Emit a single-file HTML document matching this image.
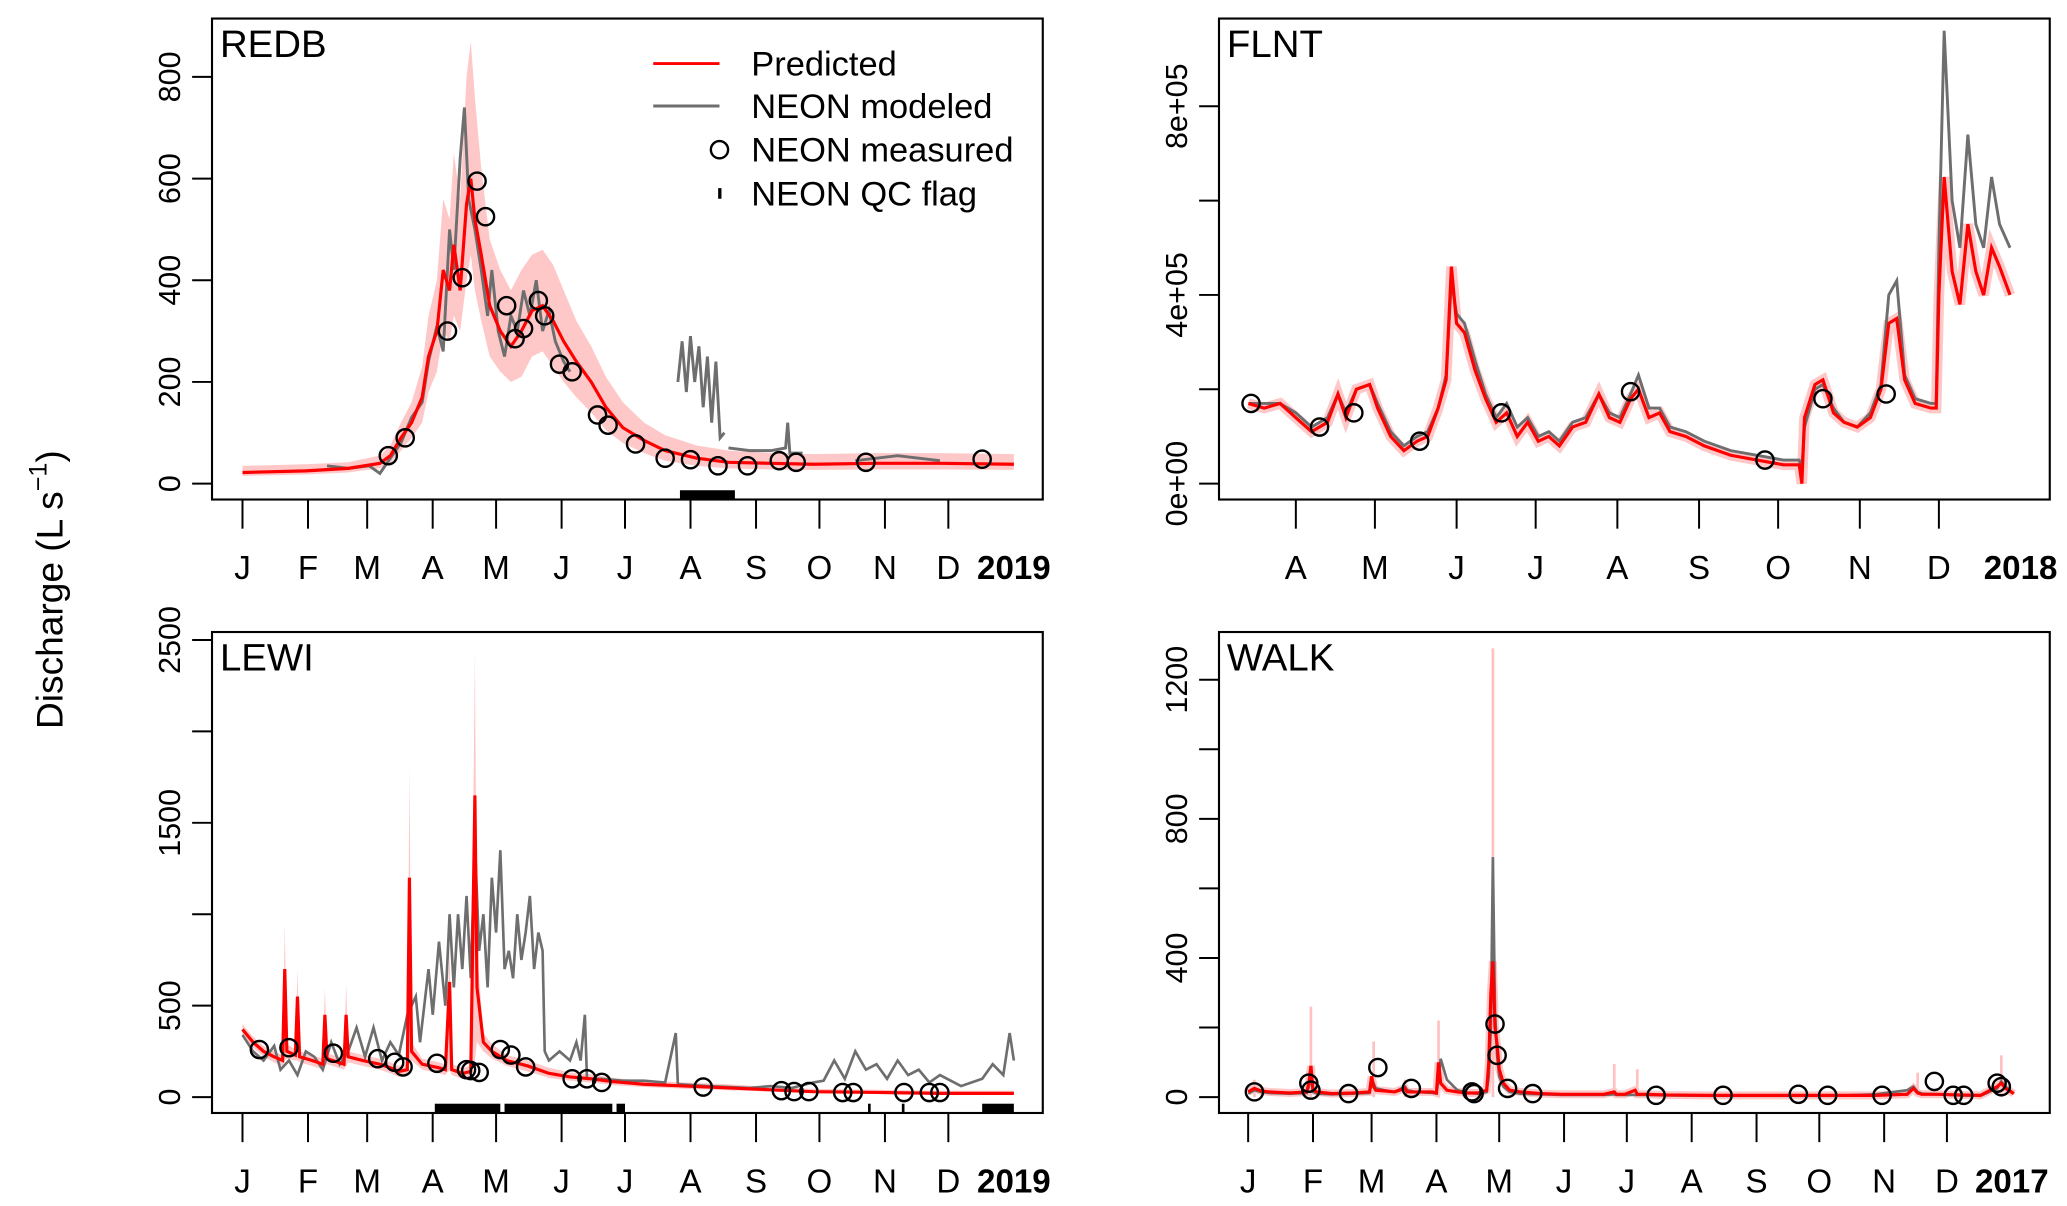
<!DOCTYPE html>
<html><head><meta charset="utf-8"><style>
html,body{margin:0;padding:0;background:#fff;}
svg{display:block;font-family:"Liberation Sans",sans-serif;}
</style></head><body>
<svg id="fig" width="2067" height="1206" viewBox="0 0 1560 910.2" xmlns="http://www.w3.org/2000/svg">
<text transform="translate(47,445) rotate(-90)" text-anchor="middle" font-size="28">Discharge (L s<tspan dy="-12" font-size="19">−1</tspan><tspan dy="12">)</tspan></text>
</svg>
<script>
// ---------- DATA ----------
const monthLabels = ["J","F","M","A","M","J","J","A","S","O","N","D"];
const monthDays = [0,31,59,90,120,151,181,212,243,273,304,334,365];

// REDB
const redbPredDays = [0,30,50,65,70,75,80,85,88,92,95,98,100,103,106,108,110,113,117,122,127,132,137,142,147,152,158,165,172,180,190,200,215,230,250,270,300,330,365];
const redbPred = [22,25,30,40,55,90,120,170,250,300,420,380,470,380,550,600,520,450,350,300,270,300,340,350,320,280,240,200,150,110,85,65,50,42,40,38,40,40,38];
const redbBandLo = [15,18,22,30,40,65,90,120,180,220,300,280,330,300,400,450,380,320,250,220,200,210,250,260,230,200,170,140,105,80,60,45,35,30,28,27,28,28,27];
const redbBandHi = [35,38,42,55,75,120,160,230,330,400,560,520,650,560,800,870,760,620,480,420,380,420,450,460,430,380,320,270,210,160,120,95,75,65,60,58,60,60,58];
const redbModDays = [40,50,60,65,70,75,80,85,88,92,95,98,100,103,105,107,110,113,116,118,121,124,127,130,133,136,139,142,145,148,152,155,null,206,208,210,212,214,216,218,220,222,224,226,228,null,230,240,250,257,258,259,265,null,290,300,310,320,330];
const redbMod = [35,30,35,20,50,80,130,160,240,310,260,500,420,640,740,560,500,420,330,420,300,250,330,300,380,330,400,300,340,280,240,220,null,200,280,180,290,200,270,150,250,120,240,90,100,null,70,65,65,70,120,60,60,null,45,50,55,50,45];
const redbMeasDays = [69,77,97,104,111,115,125,129,133,140,143,150,156,168,173,186,200,212,225,239,254,262,295,350];
const redbMeas = [55,90,300,405,595,525,350,285,305,360,330,235,220,135,115,78,50,47,35,35,45,42,42,48];
const redbFlagStart = [207];
const redbFlagEnd = [233];

// FLNT (values in 1e5)
const flntDays = [72,78,84,90,96,102,106,109,113,118,121,126,131,136,140,144,147,149,151,154,158,162,166,170,174,178,182,186,190,195,200,205,209,213,217,220,224,228,232,238,245,255,265,275,281,282,283,287,290,294,298,303,308,312,315,318,321,325,331,333,334,336,339,342,345,348,351,354,357,361];
const flntPred = [1.7,1.6,1.7,1.4,1.1,1.3,1.9,1.4,2.0,2.1,1.6,1.0,0.7,0.9,1.0,1.6,2.2,4.6,3.4,3.2,2.4,1.8,1.3,1.5,1.0,1.3,0.9,1.0,0.8,1.2,1.3,1.9,1.4,1.3,1.8,2.0,1.4,1.5,1.1,1.0,0.8,0.6,0.5,0.4,0.4,0.0,1.4,2.1,2.2,1.5,1.3,1.2,1.4,2.0,3.4,3.5,2.2,1.7,1.6,1.6,4.0,6.5,4.5,3.8,5.5,4.5,4.0,5.0,4.6,4.0];
const flntMod = [1.7,1.7,1.7,1.5,1.2,1.4,1.9,1.5,2.0,2.1,1.7,1.1,0.8,1.0,1.1,1.6,2.3,4.3,3.6,3.4,2.6,1.9,1.4,1.7,1.2,1.4,1.0,1.1,0.9,1.3,1.4,1.9,1.5,1.4,1.9,2.3,1.6,1.6,1.2,1.1,0.9,0.7,0.6,0.5,0.5,0.3,1.2,2.0,2.1,1.6,1.3,1.2,1.5,2.1,4.0,4.3,2.3,1.8,1.7,1.7,5.0,9.6,6.0,5.0,7.4,5.5,5.0,6.5,5.5,5.0];
const flntMeasDays = [73,99,112,137,168,217,268,290,314];
const flntMeas = [1.7,1.2,1.5,0.9,1.5,1.95,0.5,1.8,1.9];

// LEWI
const lewiPredDays = [0,5,10,15,19,20,21,25,26,27,33,38,39,40,48,49,50,57,65,70,74,78,79,80,85,93,96,98,99,104,108,110,111,114,118,125,135,145,155,165,175,190,210,230,250,270,300,330,365];
const lewiPred = [370,300,250,220,200,700,250,230,550,220,200,180,450,210,180,450,220,200,180,160,140,150,1200,250,180,160,150,630,150,130,140,1650,600,300,250,200,170,130,110,100,85,70,60,50,40,30,25,20,20];
const lewiBandLo = [330,270,220,190,170,200,210,200,200,190,170,150,170,180,150,170,190,170,150,130,110,120,200,200,150,130,120,150,120,100,110,200,300,250,210,170,140,105,90,80,65,55,45,38,30,22,18,14,14];
const lewiBandHi = [400,330,280,250,230,950,290,260,700,250,230,210,600,240,210,620,250,230,210,190,170,180,1800,300,210,190,180,800,180,160,170,2430,800,350,290,230,200,160,135,125,105,90,80,70,55,45,40,35,35];
const lewiModDays = [0,5,10,15,18,22,26,30,34,38,42,46,50,54,58,62,66,70,74,78,82,84,88,90,93,96,98,100,102,104,106,108,110,112,114,116,118,120,122,124,126,128,130,132,134,136,138,140,142,143,145,150,155,158,160,162,163,170,180,190,200,205,206,220,240,250,260,270,275,280,285,290,295,300,305,310,315,320,325,330,340,350,355,360,363,365];
const lewiMod = [340,250,200,280,150,200,120,250,220,150,300,180,250,380,220,380,200,300,230,450,550,300,700,450,850,500,1000,600,1000,700,1100,650,1400,800,1000,600,1200,900,1350,700,800,650,1000,750,900,1100,700,900,800,250,200,250,200,300,200,450,100,100,90,90,80,350,70,60,50,60,50,80,90,200,100,250,150,180,100,200,120,150,80,120,60,100,180,120,350,200];
const lewiMeasDays = [8,22,43,64,72,76,92,106,108,112,122,127,134,156,163,170,218,255,261,268,284,289,313,325,330];
const lewiMeas = [260,270,240,210,190,165,185,150,145,135,260,230,165,100,100,80,55,35,30,30,25,25,25,25,25];
const lewiFlagStart = [91,124,177,296,312,350];
const lewiFlagEnd = [122,175,181,297,313,365];

// WALK
const walkDays = [0,3,6,10,20,28,29,30,31,33,40,50,58,59,60,61,65,70,75,76,80,88,90,91,92,95,100,105,110,114,115,116,117,118,119,120,122,125,130,140,150,160,170,175,176,180,185,186,190,200,220,240,260,280,300,315,318,320,322,330,340,350,358,360,362,366];
const walkPred = [15,25,18,15,12,15,40,90,20,15,10,12,15,60,30,20,18,15,25,15,15,15,12,100,40,20,15,12,12,20,100,300,390,200,150,80,40,20,15,10,8,8,8,15,8,8,20,8,8,6,5,5,5,5,5,8,25,12,8,8,6,5,30,40,25,10];
const walkMod = [10,20,15,12,10,12,30,60,15,10,8,10,12,40,40,25,20,15,30,20,15,12,10,50,110,50,20,12,10,15,60,200,690,250,120,60,30,15,10,8,6,6,6,8,6,6,6,6,6,5,4,4,4,4,8,20,30,15,10,8,5,4,25,45,30,10];
const walkSpikeDays = [3,30,60,75,91,117,175,186,320,360];
const walkSpikeHi = [50,260,160,50,220,1290,95,80,70,120];
const walkMeasDays = [3,29,30,48,62,78,107,108,118,119,124,136,195,227,263,277,303,328,337,342,358,360];
const walkMeas = [15,40,20,10,85,25,15,10,210,120,25,10,5,5,8,5,5,45,5,5,40,30];

// ---------- DRAWING ----------
const NS = "http://www.w3.org/2000/svg";
const svg = document.getElementById("fig");
function mk(tag, attrs, parent) {
  const e = document.createElementNS(NS, tag);
  for (const k in attrs) e.setAttribute(k, attrs[k]);
  (parent || svg).appendChild(e);
  return e;
}
const panels = [
  {id:"redb", title:"REDB", L:160, R:787, T:14, B:377, x:d=>183+1.595*d, y:v=>365-v*0.3837,
   yticks:[0,200,400,600,800], ylabels:["0","200","400","600","800"], months:[0,1,2,3,4,5,6,7,8,9,10,11], year:"2019"},
  {id:"flnt", title:"FLNT", L:920, R:1547, T:14, B:377, x:d=>978+(d-90)*1.989, y:v=>365-v*35.6,
   yticks:[0,2,4,6,8], ylabels:["0e+00","","4e+05","","8e+05"], months:[3,4,5,6,7,8,9,10,11], year:"2018"},
  {id:"lewi", title:"LEWI", L:160, R:787, T:477, B:840, x:d=>183+1.595*d, y:v=>828-v*0.138,
   yticks:[0,500,1000,1500,2000,2500], ylabels:["0","500","","1500","","2500"], months:[0,1,2,3,4,5,6,7,8,9,10,11], year:"2019"},
  {id:"walk", title:"WALK", L:920, R:1547, T:477, B:840, x:d=>942+1.579*d, y:v=>828-v*0.2625,
   yticks:[0,200,400,600,800,1000,1200], ylabels:["0","","400","","800","","1200"], months:[0,1,2,3,4,5,6,7,8,9,10,11], year:"2017"}
];

function pathFrom(days, vals, p) {
  let d = "", pen = false;
  for (let i = 0; i < days.length; i++) {
    if (days[i] === null || vals[i] === null) { pen = false; continue; }
    d += (pen ? "L" : "M") + p.x(days[i]).toFixed(1) + "," + p.y(vals[i]).toFixed(1);
    pen = true;
  }
  return d;
}
function bandFrom(days, lo, hi, p) {
  let d = "";
  for (let i = 0; i < days.length; i++) d += (i ? "L" : "M") + p.x(days[i]).toFixed(1) + "," + p.y(hi[i]).toFixed(1);
  for (let i = days.length - 1; i >= 0; i--) d += "L" + p.x(days[i]).toFixed(1) + "," + p.y(lo[i]).toFixed(1);
  return d + "Z";
}

panels.forEach(p => {
  const g = mk("g", {});
  
  
  const cp = mk("clipPath", {id:"clip-" + p.id}, g);
  mk("rect", {x:p.L, y:p.T, width:p.R - p.L, height:p.B - p.T}, cp);
  const plot = mk("g", {"clip-path":"url(#clip-" + p.id + ")"}, g);
  
  

  let band, mod, pred, mDays, mVals, fS = [], fE = [];
  if (p.id === "redb") {
    band = mk("path", {d:bandFrom(redbPredDays, redbBandLo, redbBandHi, p), fill:"#ffc8c8", stroke:"none"}, plot);
    mod = mk("path", {d:pathFrom(redbModDays, redbMod, p), fill:"none", stroke:"#6e6e6e", "stroke-width":2.2}, plot);
    pred = mk("path", {d:pathFrom(redbPredDays, redbPred, p), fill:"none", stroke:"#ff0000", "stroke-width":2.4}, plot);
    mDays = redbMeasDays; mVals = redbMeas; fS = redbFlagStart; fE = redbFlagEnd;
  } else if (p.id === "flnt") {
    band = mk("path", {d:pathFrom(flntDays, flntPred, p), fill:"none", stroke:"#ffc8c8", "stroke-width":8}, plot);
    mod = mk("path", {d:pathFrom(flntDays, flntMod, p), fill:"none", stroke:"#6e6e6e", "stroke-width":2.2}, plot);
    pred = mk("path", {d:pathFrom(flntDays, flntPred, p), fill:"none", stroke:"#ff0000", "stroke-width":2.4}, plot);
    mDays = flntMeasDays; mVals = flntMeas;
  } else if (p.id === "lewi") {
    band = mk("path", {d:bandFrom(lewiPredDays, lewiBandLo, lewiBandHi, p), fill:"#ffc8c8", stroke:"none"}, plot);
    mod = mk("path", {d:pathFrom(lewiModDays, lewiMod, p), fill:"none", stroke:"#6e6e6e", "stroke-width":2}, plot);
    pred = mk("path", {d:pathFrom(lewiPredDays, lewiPred, p), fill:"none", stroke:"#ff0000", "stroke-width":2.4}, plot);
    mDays = lewiMeasDays; mVals = lewiMeas; fS = lewiFlagStart; fE = lewiFlagEnd;
  } else {
    band = mk("g", {}, plot);
    walkSpikeDays.forEach((d, i) => {
      const l = mk("line", {x1:p.x(d), x2:p.x(d), y1:p.y(0), y2:p.y(walkSpikeHi[i]), stroke:"#ffc0c0", "stroke-width":2}, band);
      
      
    });
    mk("path", {d:pathFrom(walkDays, walkPred, p), fill:"none", stroke:"#ffc8c8", "stroke-width":6}, band);
    mod = mk("path", {d:pathFrom(walkDays, walkMod, p), fill:"none", stroke:"#6e6e6e", "stroke-width":2}, plot);
    pred = mk("path", {d:pathFrom(walkDays, walkPred, p), fill:"none", stroke:"#ff0000", "stroke-width":2.4}, plot);
    mDays = walkMeasDays; mVals = walkMeas;
  }
  
  
  
  
  
  
  mDays.forEach((d, i) => {
    const c = mk("circle", {cx:p.x(d), cy:p.y(mVals[i]), r:6.5, fill:"none", stroke:"#000", "stroke-width":1.8}, plot);
    
    
  });
  fS.forEach((s, i) => {
    const r = mk("rect", {x:p.x(s), y:p.B - 7, width:Math.max(2, p.x(fE[i]) - p.x(s)), height:7, fill:"#000"}, plot);
    
    
  });

  const box = mk("rect", {x:p.L, y:p.T, width:p.R - p.L, height:p.B - p.T, fill:"none", stroke:"#000", "stroke-width":1.6}, g);
  
  
  const t = mk("text", {x:p.L + 6, y:p.T + 29, "font-size":29}, g);
  t.textContent = p.title;
  
  

  const ya = mk("g", {}, g);
  
  
  p.yticks.forEach((v, i) => {
    const yy = p.y(v);
    mk("line", {x1:p.L - 15, x2:p.L, y1:yy, y2:yy, stroke:"#000", "stroke-width":1.5}, ya);
    if (p.ylabels[i]) {
      const lt = mk("text", {transform:"translate(" + (p.L - 24) + "," + yy + ") rotate(-90)", "text-anchor":"middle", "font-size":23}, ya);
      lt.textContent = p.ylabels[i];
      
      
    }
  });
  const xa = mk("g", {}, g);
  
  
  const ly = p.B + 60;
  p.months.forEach(m => {
    const xx = p.x(monthDays[m]);
    mk("line", {x1:xx, x2:xx, y1:p.B, y2:p.B + 22, stroke:"#000", "stroke-width":1.5}, xa);
    const lt = mk("text", {x:xx, y:ly, "text-anchor":"middle", "font-size":25}, xa);
    lt.textContent = monthLabels[m];
    
    
  });
  const yt = mk("text", {x:p.x(365), y:ly, "text-anchor":"middle", "font-size":25, "font-weight":"bold"}, xa);
  yt.textContent = p.year;
  
  
});

const lg = mk("g", {});


const entries = [["Predicted","line","#ff0000",48],["NEON modeled","line","#6e6e6e",80],["NEON measured","circle","#000",113],["NEON QC flag","flag","#000",146]];
entries.forEach(e => {
  const eg = mk("g", {}, lg);
  
  
  if (e[1] === "line") mk("line", {x1:493, x2:543, y1:e[3], y2:e[3], stroke:e[2], "stroke-width":2.2}, eg);
  else if (e[1] === "circle") mk("circle", {cx:543, cy:e[3], r:6.5, fill:"none", stroke:"#000", "stroke-width":1.8}, eg);
  else mk("rect", {x:542, y:e[3] - 4, width:2.5, height:8, fill:"#000"}, eg);
  const t = mk("text", {x:567, y:e[3] + 9, "font-size":26}, eg);
  t.textContent = e[0];
});
</script>
</body></html>
